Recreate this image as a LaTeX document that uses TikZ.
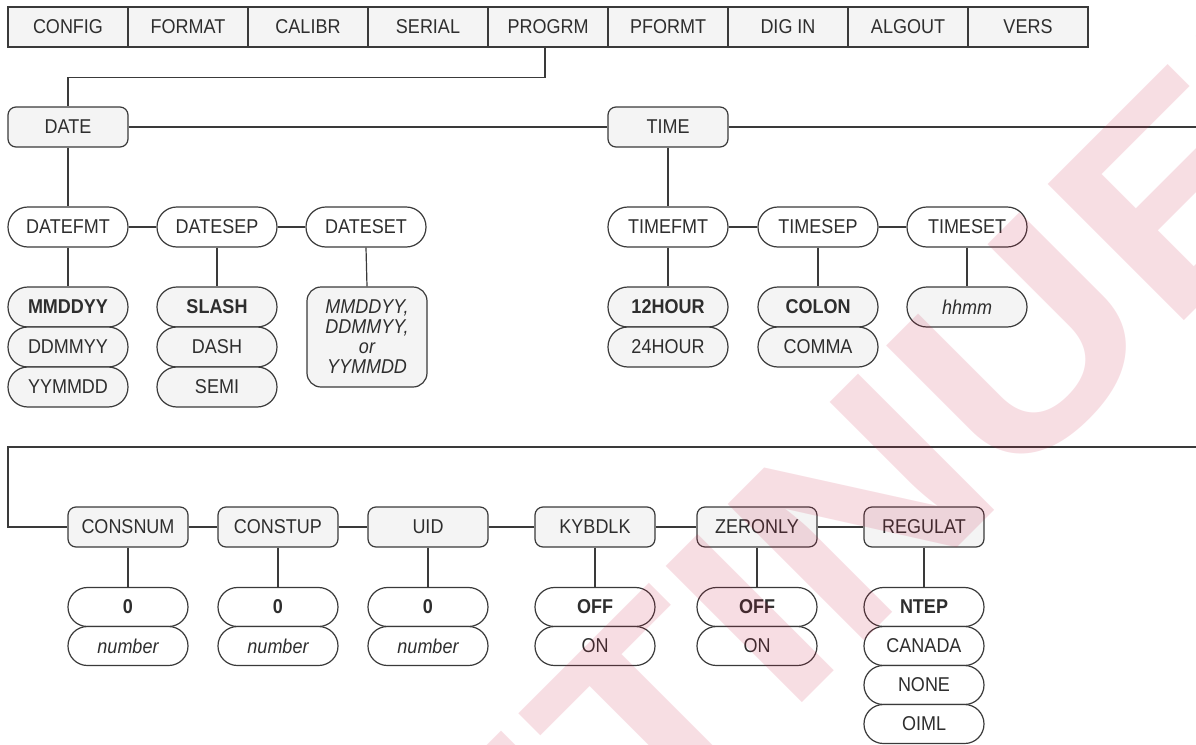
\documentclass[tikz,border=0pt]{standalone}
\usepackage{fontspec}
\setmainfont{Liberation Sans}[FakeStretch=0.9]
\newfontfamily\wmfont{Liberation Sans Bold}[FakeStretch=1.12]
\definecolor{ln}{HTML}{3A3A3A}
\definecolor{tx}{HTML}{2E2E2E}
\definecolor{gf}{HTML}{F4F4F4}
\definecolor{wmc}{RGB}{200,20,60}
\tikzset{
  lbl/.style={inner sep=0pt, text=tx, font=\fontsize{10}{12}\selectfont, draw=ln, line width=0.6pt},
  cell/.style={lbl, fill=gf, minimum width=60pt, minimum height=20pt},
  menu/.style={lbl, fill=gf, rounded corners=4pt, minimum width=60pt, minimum height=20pt},
  pill/.style={lbl, fill=white, rounded corners=9.9pt, minimum width=60pt, minimum height=20pt},
  gpill/.style={pill, fill=gf},
  vpill/.style={pill, minimum height=19.5pt, rounded corners=9.7pt},
  bld/.style={font=\fontsize{10}{12}\selectfont\bfseries},
  itl/.style={font=\fontsize{10}{12}\selectfont\itshape},
  wire/.style={draw=ln, line width=0.6pt},
}
\begin{document}
\begin{tikzpicture}[x=0.5pt,y=-0.5pt]
\useasboundingbox (0,0) rectangle (1196,745);
% top menu bar
\node[cell] (config) at (68,27) {CONFIG};
\node[cell] (format) at (188,27) {FORMAT};
\node[cell] (calibr) at (308,27) {CALIBR};
\node[cell] (serial) at (428,27) {SERIAL};
\node[cell] (progrm) at (548,27) {PROGRM};
\node[cell] (pformt) at (668,27) {PFORMT};
\node[cell] (digin) at (788,27) {DIG IN};
\node[cell] (algout) at (908,27) {ALGOUT};
\node[cell] (vers) at (1028,27) {VERS};
% level 1
\node[menu] (date) at (68,127) {DATE};
\node[menu] (time) at (668,127) {TIME};
\coordinate (tend) at (1196,127);
\draw[wire] ([xshift=-1.5pt]progrm.south) -- ++(0,30) -| (date.north);
\draw[wire] (date.east) -- (time.west);
\draw[wire] (time.east) -- (tend);
% level 2
\node[pill] (datefmt) at (68,227) {DATEFMT};
\node[pill] (datesep) at (217,227) {DATESEP};
\node[pill] (dateset) at (366,227) {DATESET};
\node[pill] (timefmt) at (668,227) {TIMEFMT};
\node[pill] (timesep) at (818,227) {TIMESEP};
\node[pill] (timeset) at (967,227) {TIMESET};
\draw[wire] (date.south) -- (datefmt.north);
\draw[wire] (datefmt.east) -- (datesep.west);
\draw[wire] (datesep.east) -- (dateset.west);
\draw[wire] (time.south) -- (timefmt.north);
\draw[wire] (timefmt.east) -- (timesep.west);
\draw[wire] (timesep.east) -- (timeset.west);
% values
\node[gpill,bld] (mmddyy) at (68,307) {MMDDYY};
\node[gpill] (ddmmyy) at (68,347) {DDMMYY};
\node[gpill] (yymmdd) at (68,387) {YYMMDD};
\node[gpill,bld] (slash) at (217,307) {SLASH};
\node[gpill] (dash) at (217,347) {DASH};
\node[gpill] (semi) at (217,387) {SEMI};
\node[lbl, fill=gf, rounded corners=7pt, minimum width=60pt, minimum height=50pt, align=center, font=\fontsize{10}{10}\selectfont\itshape] (dsval) at (367,337) {MMDDYY,\\DDMMYY,\\or\\YYMMDD};
\node[gpill,bld] (h12) at (668,307) {12HOUR};
\node[gpill] (h24) at (668,347) {24HOUR};
\node[gpill,bld] (colon) at (818,307) {COLON};
\node[gpill] (comma) at (818,347) {COMMA};
\node[gpill,itl] (hhmm) at (967,307) {hhmm};
\draw[wire] (datefmt.south) -- (mmddyy.north);
\draw[wire] (datesep.south) -- (slash.north);
\draw[wire] (dateset.south) -- (dsval.north);
\draw[wire] (timefmt.south) -- (h12.north);
\draw[wire] (timesep.south) -- (colon.north);
\draw[wire] (timeset.south) -- (hhmm.north);
% row 3
\coordinate (rr) at (1196,447);
\coordinate (rl) at (8,447);
\node[menu] (consnum) at (128,527) {CONSNUM};
\node[menu] (constup) at (278,527) {CONSTUP};
\node[menu] (uid) at (428,527) {UID};
\node[menu] (kybdlk) at (595,527) {KYBDLK};
\node[menu] (zeronly) at (757,527) {ZERONLY};
\node[menu] (regulat) at (924,527) {REGULAT};
\draw[wire] (rr) -- (rl) |- (consnum.west);
\draw[wire] (consnum.east) -- (constup.west);
\draw[wire] (constup.east) -- (uid.west);
\draw[wire] (uid.east) -- (kybdlk.west);
\draw[wire] (kybdlk.east) -- (zeronly.west);
\draw[wire] (zeronly.east) -- (regulat.west);
\node[vpill,bld] (cn0) at (128,607) {0};
\node[vpill,itl] (cnn) at (128,646) {number};
\node[vpill,bld] (cu0) at (278,607) {0};
\node[vpill,itl] (cun) at (278,646) {number};
\node[vpill,bld] (ui0) at (428,607) {0};
\node[vpill,itl] (uin) at (428,646) {number};
\node[vpill,bld] (kboff) at (595,607) {OFF};
\node[vpill] (kbon) at (595,646) {ON};
\node[vpill,bld] (zooff) at (757,607) {OFF};
\node[vpill] (zoon) at (757,646) {ON};
\node[vpill,bld] (ntep) at (924,607) {NTEP};
\node[vpill] (canada) at (924,646) {CANADA};
\node[vpill] (none) at (924,685) {NONE};
\node[vpill] (oiml) at (924,724) {OIML};
\draw[wire] (consnum.south) -- (cn0.north);
\draw[wire] (constup.south) -- (cu0.north);
\draw[wire] (uid.south) -- (ui0.north);
\draw[wire] (kybdlk.south) -- (kboff.north);
\draw[wire] (zeronly.south) -- (zooff.north);
\draw[wire] (regulat.south) -- (ntep.north);
% watermark
\begin{scope}
\clip (0,0) rectangle (1196,745);
\node[anchor=base, rotate=45, text=wmc, text opacity=0.14, inner sep=0pt, font=\wmfont\fontsize{140}{140}\selectfont] (wmark) at (634,871) {DISCONTINUED};
\end{scope}
\end{tikzpicture}
\end{document}
